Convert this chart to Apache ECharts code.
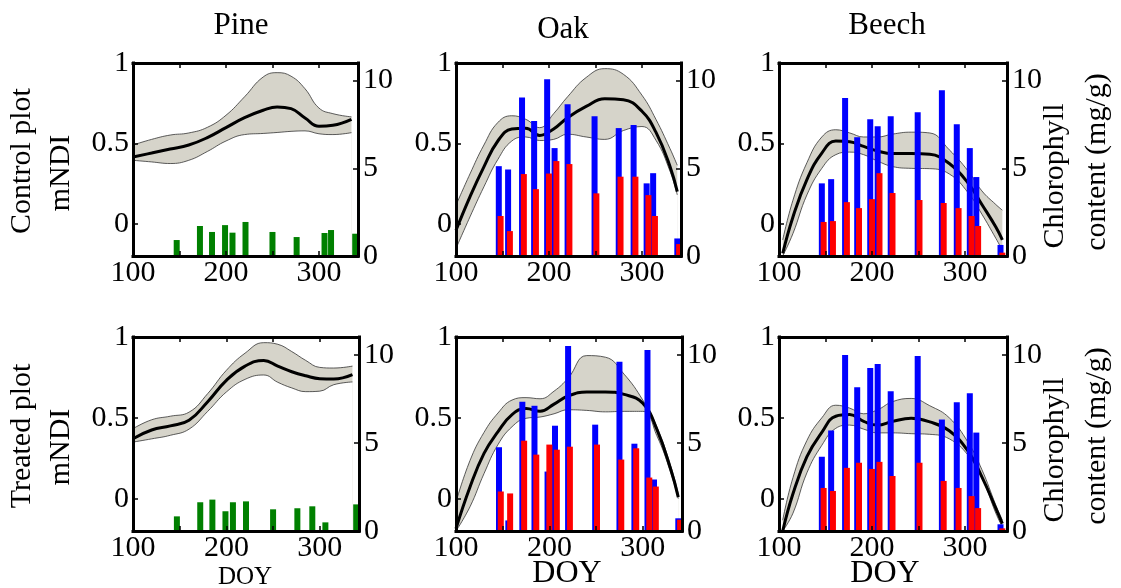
<!DOCTYPE html>
<html><head><meta charset="utf-8">
<script src="https://cdn.jsdelivr.net/npm/echarts@6/dist/echarts.min.js"></script>
<style>html,body{margin:0;padding:0;background:#fff}#c{width:1121px;height:588px}</style>
</head><body><div id="c"></div>
<script>
// ---------- DATA ----------
const speciesTitles = ['Pine', 'Oak', 'Beech'];
const rowLabels = ['Control plot', 'Treated plot'];
const leftAxisName = 'mNDI';
const rightAxisName = ['Chlorophyll', 'content (mg/g)'];
const xAxisName = 'DOY';
const xTicks = [100, 200, 300];
const mndiTicks = [0, 0.5, 1];
const chlTicks = [0, 5, 10];

// sampling dates of chlorophyll measurements
const sampleDOY = [147, 157, 172, 185, 199, 207, 221, 250, 276, 292, 306, 313, 339];

// Pine: green bars (null = no sample)
const pineControlChl = [0.91, null, 1.71, 1.37, 1.76, 1.33, 1.94, 1.37, 1.08, null, 1.31, 1.48, 1.27];
const pineTreatedChl = [0.83, null, 1.63, 1.78, 1.12, 1.63, 1.68, 1.23, 1.29, 1.40, 0.49, null, 1.51];
// Oak: blue and red bars
const oakControlBlue = [5.12, 4.93, 9.03, 7.69, 10.08, 6.15, 8.65, 7.97, 7.29, 7.46, 4.14, 4.72, 1.0];
const oakControlRed  = [2.28, 1.42, 4.67, 3.81, 4.70, 5.41, 5.24, 3.57, 4.52, 4.52, 3.47, 2.28, 0.68];
const oakTreatedBlue = [4.75, 0.60, 7.33, 7.10, 3.37, 5.97, 10.49, 6.03, 9.59, 4.95, 10.26, 2.92, 0.72];
const oakTreatedRed  = [2.24, 2.13, 5.12, 4.33, 4.90, 4.61, 4.78, 4.90, 4.05, 4.69, 3.03, 2.52, 0.64];
// Beech: blue and red bars
const beechControlBlue = [4.14, 4.38, 9.00, 6.77, 7.80, 7.40, 7.97, 8.20, 9.45, 7.51, 6.15, 4.50, 0.63];
const beechControlRed  = [1.94, 1.99, 3.07, 2.73, 3.24, 4.72, 3.59, 3.19, 3.02, 2.73, 2.28, 1.71, 0.19];
const beechTreatedBlue = [4.21, 5.70, 9.98, 8.15, 9.24, 9.47, 7.92, 9.92, 6.32, 7.30, 7.81, 5.58, 0.38];
const beechTreatedRed  = [2.44, 2.27, 3.58, 3.87, 3.52, 3.92, 3.12, 3.87, 2.84, 2.44, 1.98, 1.30, 0.15];

// mNDI curves (mean and band)
const pineX = [100, 120, 140, 160, 180, 200, 220, 240, 255, 270, 285, 300, 315, 335];
const pineControlMean  = [0.416, 0.44, 0.465, 0.49, 0.536, 0.598, 0.66, 0.706, 0.727, 0.716, 0.658, 0.607, 0.613, 0.65];
const pineControlUpper = [0.49, 0.525, 0.552, 0.565, 0.60, 0.675, 0.79, 0.913, 0.94, 0.918, 0.84, 0.72, 0.685, 0.665];
const pineControlLower = [0.395, 0.385, 0.375, 0.395, 0.45, 0.515, 0.555, 0.562, 0.568, 0.575, 0.578, 0.56, 0.555, 0.567];
const pineTreatedMean  = [0.371, 0.425, 0.45, 0.485, 0.60, 0.732, 0.82, 0.855, 0.82, 0.785, 0.76, 0.742, 0.74, 0.767];
const pineTreatedUpper = [0.433, 0.488, 0.51, 0.535, 0.65, 0.794, 0.90, 0.965, 0.955, 0.91, 0.855, 0.812, 0.808, 0.82];
const pineTreatedLower = [0.35, 0.37, 0.392, 0.43, 0.54, 0.66, 0.738, 0.765, 0.72, 0.685, 0.662, 0.665, 0.705, 0.722];

const oakX = [100, 115, 130, 145, 160, 175, 190, 205, 220, 240, 260, 280, 300, 315, 330, 338];
const oakControlMean  = [-0.04, 0.168, 0.354, 0.515, 0.59, 0.595, 0.55, 0.59, 0.66, 0.73, 0.778, 0.772, 0.70, 0.57, 0.36, 0.2];
const oakControlUpper = [0.116, 0.31, 0.49, 0.63, 0.672, 0.65, 0.598, 0.685, 0.79, 0.91, 0.965, 0.93, 0.80, 0.65, 0.47, 0.364];
const oakControlLower = [-0.153, 0.043, 0.23, 0.40, 0.515, 0.54, 0.518, 0.525, 0.557, 0.54, 0.525, 0.58, 0.605, 0.52, 0.33, 0.18];
const oakTreatedMean  = [-0.185, 0.072, 0.28, 0.415, 0.52, 0.558, 0.54, 0.585, 0.635, 0.66, 0.66, 0.645, 0.59, 0.43, 0.18, 0.01];
const oakTreatedUpper = [-0.02, 0.236, 0.41, 0.53, 0.61, 0.625, 0.618, 0.665, 0.745, 0.885, 0.875, 0.77, 0.61, 0.445, 0.20, 0.03];
const oakTreatedLower = [-0.2, -0.05, 0.155, 0.335, 0.445, 0.497, 0.505, 0.525, 0.55, 0.546, 0.537, 0.54, 0.54, 0.39, 0.16, 0.0];

const beechX = [104, 115, 130, 146, 161, 176, 191, 206, 222, 242, 262, 283, 303, 318, 333, 340];
const beechControlMean  = [-0.184, 0.043, 0.275, 0.44, 0.515, 0.51, 0.482, 0.453, 0.437, 0.437, 0.432, 0.375, 0.255, 0.12, -0.02, -0.1];
const beechControlUpper = [-0.1, 0.147, 0.38, 0.54, 0.585, 0.565, 0.54, 0.54, 0.558, 0.57, 0.565, 0.46, 0.33, 0.205, 0.12, 0.085];
const beechControlLower = [-0.2, -0.06, 0.18, 0.345, 0.43, 0.446, 0.43, 0.39, 0.356, 0.345, 0.343, 0.31, 0.195, 0.06, -0.09, -0.163];
const beechTreatedMean  = [-0.2, 0.03, 0.26, 0.41, 0.51, 0.52, 0.478, 0.455, 0.478, 0.497, 0.475, 0.42, 0.295, 0.135, -0.06, -0.154];
const beechTreatedUpper = [-0.133, 0.13, 0.36, 0.50, 0.578, 0.56, 0.525, 0.55, 0.60, 0.62, 0.575, 0.50, 0.35, 0.18, -0.04, -0.133];
const beechTreatedLower = [-0.2, -0.09, 0.16, 0.33, 0.435, 0.455, 0.43, 0.407, 0.407, 0.402, 0.398, 0.37, 0.27, 0.13, -0.09, -0.175];

// ---------- LAYOUT / STYLE ----------
const FONT = 'Liberation Serif';
const panels = [
  {grid: {left: 133, top: 63, width: 225, height: 193}, xMax: 342, x: pineX, mean: pineControlMean, up: pineControlUpper, lo: pineControlLower, bars: [{v: pineControlChl, c: '#008000'}]},
  {grid: {left: 456, top: 63, width: 225, height: 193}, xMax: 342, x: oakX, mean: oakControlMean, up: oakControlUpper, lo: oakControlLower, bars: [{v: oakControlBlue, c: '#0000ff'}, {v: oakControlRed, c: '#ff0000'}]},
  {grid: {left: 779, top: 63, width: 228, height: 193}, xMax: 345, x: beechX, mean: beechControlMean, up: beechControlUpper, lo: beechControlLower, bars: [{v: beechControlBlue, c: '#0000ff'}, {v: beechControlRed, c: '#ff0000'}]},
  {grid: {left: 133, top: 337, width: 226, height: 194}, xMax: 342, x: pineX, mean: pineTreatedMean, up: pineTreatedUpper, lo: pineTreatedLower, bars: [{v: pineTreatedChl, c: '#008000'}]},
  {grid: {left: 456, top: 337, width: 226, height: 194}, xMax: 342, x: oakX, mean: oakTreatedMean, up: oakTreatedUpper, lo: oakTreatedLower, bars: [{v: oakTreatedBlue, c: '#0000ff'}, {v: oakTreatedRed, c: '#ff0000'}]},
  {grid: {left: 779, top: 337, width: 228, height: 194}, xMax: 345, x: beechX, mean: beechTreatedMean, up: beechTreatedUpper, lo: beechTreatedLower, bars: [{v: beechTreatedBlue, c: '#0000ff'}, {v: beechTreatedRed, c: '#ff0000'}]}
];

const axisLine = {show: true, onZero: false, lineStyle: {color: '#000', width: 3, cap: 'square'}};
const lbl = {color: '#000', fontFamily: FONT, fontSize: 30};
const SMOOTH = 0.45;

const grid = [], xAxis = [], yAxis = [], series = [];
panels.forEach((p, i) => {
  grid.push(Object.assign({containLabel: false}, p.grid));
  xAxis.push({type: 'value', gridIndex: i, position: 'bottom', min: 100, max: p.xMax, interval: 50, z: 10,
    axisLine, splitLine: {show: false},
    axisTick: {show: true, inside: true, length: 5, lineStyle: {color: '#000', width: 1.5}},
    axisLabel: Object.assign({margin: 2, showMaxLabel: false, formatter: v => xTicks.includes(v) ? String(v) : ''}, lbl)});
  xAxis.push({type: 'value', gridIndex: i, position: 'top', min: 100, max: p.xMax, interval: 50, z: 10,
    axisLine, splitLine: {show: false},
    axisTick: {show: true, inside: true, length: 5, lineStyle: {color: '#000', width: 1.5}},
    axisLabel: {show: false}});
  yAxis.push({type: 'value', gridIndex: i, position: 'left', min: -0.2, max: 1, z: 10,
    axisLine, splitLine: {show: false},
    axisTick: {show: true, inside: true, length: 5, customValues: mndiTicks, lineStyle: {color: '#000', width: 1.5}},
    axisLabel: Object.assign({margin: 4, customValues: mndiTicks}, lbl)});
  yAxis.push({type: 'value', gridIndex: i, position: 'right', min: 0, max: 11, z: 10,
    axisLine, splitLine: {show: false},
    axisTick: {show: true, inside: true, length: 5, customValues: chlTicks, lineStyle: {color: '#000', width: 1.5}},
    axisLabel: Object.assign({margin: 5, customValues: chlTicks}, lbl)});

  const xi = 2 * i, yl = 2 * i, yr = 2 * i + 1;
  // upper edge of band: grey area down to axis bottom
  series.push({type: 'line', xAxisIndex: xi, yAxisIndex: yl, smooth: SMOOTH, symbol: 'none', silent: true, z: 1,
    lineStyle: {color: '#333', width: 0.8},
    areaStyle: {color: '#d6d4ca', opacity: 1, origin: 'start'},
    data: p.x.map((x, k) => [x, p.up[k]])});
  // lower edge of band: white area below it masks the grey
  series.push({type: 'line', xAxisIndex: xi, yAxisIndex: yl, smooth: SMOOTH, symbol: 'none', silent: true, z: 1.5,
    lineStyle: {color: '#333', width: 0.8},
    areaStyle: {color: '#ffffff', opacity: 1, origin: 'start'},
    data: p.x.map((x, k) => [x, p.lo[k]])});
  series.push({type: 'line', xAxisIndex: xi, yAxisIndex: yl, smooth: SMOOTH, symbol: 'none', silent: true, z: 2,
    lineStyle: {color: '#000', width: 3},
    data: p.x.map((x, k) => [x, p.mean[k]])});
  p.bars.forEach((b, j) => {
    const data = [];
    sampleDOY.forEach((d, k) => { if (b.v[k] != null) data.push([d, b.v[k]]); });
    const s = {type: 'bar', xAxisIndex: xi, yAxisIndex: yr, barWidth: 6, z: 3 + j, silent: true,
      itemStyle: {color: b.c}, data};
    if (p.bars.length > 1) s.barGap = '-70%';
    series.push(s);
  });
});

const txt = (text, x, y, size, rot) => ({type: 'text', x, y, rotation: rot || 0, z: 20, silent: true,
  style: {text, fill: '#000', font: size + 'px "' + FONT + '"', textAlign: 'center', textVerticalAlign: 'middle'}});
const R = Math.PI / 2;
const graphic = [
  txt(speciesTitles[0], 241, 26, 31), txt(speciesTitles[1], 563, 30, 31), txt(speciesTitles[2], 887, 26, 31),
  txt(rowLabels[0], 22, 161, 30, R), txt(leftAxisName, 61, 173, 30, R),
  txt(rowLabels[1], 22, 436, 30, R), txt(leftAxisName, 61, 447, 30, R),
  txt(rightAxisName[0], 1055, 176, 30, R), txt(rightAxisName[1], 1097, 162, 30, R),
  txt(rightAxisName[0], 1055, 450, 30, R), txt(rightAxisName[1], 1097, 436, 30, R),
  txt(xAxisName, 245, 577, 25), txt(xAxisName, 567, 574, 32), txt(xAxisName, 885, 574, 32)
];

const chart = echarts.init(document.getElementById('c'), null, {renderer: 'canvas'});
chart.setOption({animation: false, backgroundColor: '#fff', grid, xAxis, yAxis, series, graphic});
</script></body></html>
